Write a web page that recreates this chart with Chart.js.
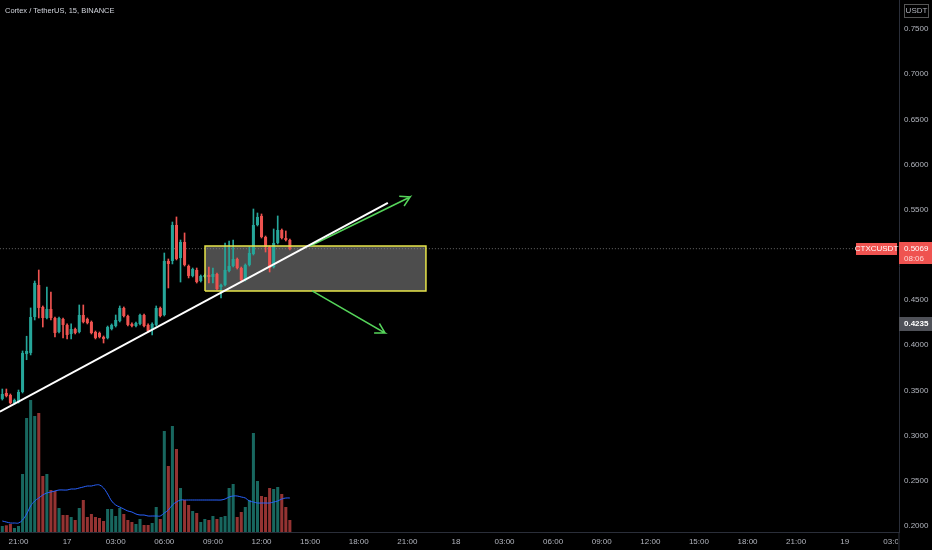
<!DOCTYPE html>
<html>
<head>
<meta charset="utf-8">
<script src="https://cdn.jsdelivr.net/npm/chart.js@4.4.0/dist/chart.umd.min.js"></script>
<style>
  html, body { margin: 0; padding: 0; background: #000; }
  #wrap { position: relative; width: 932px; height: 550px; }
  #title { position: absolute; left: 5px; top: 6px; line-height: 10px; font-size: 7.5px; font-family: 'Liberation Sans', sans-serif; color: #d1d4dc; }
</style>
</head>
<body>
<div id="wrap">
  <canvas id="chart" width="932" height="550"></canvas>
  <div id="title">Cortex / TetherUS, 15, BINANCE</div>
</div>
<script>
// 15 min candles, slot 0 = 16th 20:00
const opens = [
  0.3406, 0.3472, 0.3450, 0.3361, 0.3372, 0.3483, 0.3904, 0.3915, 0.4313, 0.4667,
  0.4424, 0.4302, 0.4402, 0.4302, 0.4147, 0.4291, 0.4225, 0.4125, 0.4180, 0.4147,
  0.4335, 0.4291, 0.4258, 0.4147, 0.4136, 0.4092, 0.4081, 0.4180, 0.4213, 0.4269,
  0.4413, 0.4324, 0.4236, 0.4213, 0.4236, 0.4335, 0.4225, 0.4169, 0.4225, 0.4413,
  0.4335, 0.4933, 0.4933, 0.5331, 0.4966, 0.5143, 0.4877, 0.4767, 0.4833, 0.4711,
  0.4756, 0.4778, 0.4756, 0.4789, 0.4645, 0.4667, 0.4822, 0.4877, 0.4955, 0.4855,
  0.4723, 0.4889, 0.5010, 0.5331, 0.5431, 0.5198, 0.5088, 0.4866, 0.5132, 0.5276,
  0.5187, 0.5165
];
const highs = [
  0.3516, 0.3516, 0.3461, 0.3406, 0.3505, 0.3937, 0.4100, 0.4413, 0.4711, 0.4833,
  0.4435, 0.4645, 0.4590, 0.4313, 0.4313, 0.4302, 0.4236, 0.4236, 0.4191, 0.4446,
  0.4446, 0.4302, 0.4269, 0.4158, 0.4147, 0.4103, 0.4213, 0.4236, 0.4335, 0.4435,
  0.4424, 0.4335, 0.4247, 0.4258, 0.4346, 0.4346, 0.4236, 0.4247, 0.4435, 0.4424,
  0.5021, 0.4955, 0.5364, 0.5420, 0.5165, 0.5243, 0.4889, 0.4855, 0.4855, 0.4778,
  0.4789, 0.4866, 0.4855, 0.4800, 0.4678, 0.5132, 0.5154, 0.5165, 0.4966, 0.4866,
  0.4900, 0.5088, 0.5508, 0.5464, 0.5453, 0.5209, 0.5099, 0.5287, 0.5431, 0.5287,
  0.5265, 0.5176
];
const lows = [
  0.3394, 0.3428, 0.3350, 0.3350, 0.3361, 0.3472, 0.3840, 0.3893, 0.4280, 0.4302,
  0.4202, 0.4291, 0.4280, 0.4092, 0.4136, 0.4081, 0.4070, 0.4070, 0.4125, 0.4136,
  0.4247, 0.4236, 0.4125, 0.4070, 0.4081, 0.4025, 0.4070, 0.4169, 0.4202, 0.4258,
  0.4313, 0.4213, 0.4202, 0.4202, 0.4225, 0.4202, 0.4147, 0.4114, 0.4213, 0.4313,
  0.4324, 0.4634, 0.4900, 0.4944, 0.4700, 0.4877, 0.4745, 0.4756, 0.4689, 0.4700,
  0.4745, 0.4689, 0.4689, 0.4612, 0.4523, 0.4656, 0.4811, 0.4866, 0.4844, 0.4711,
  0.4711, 0.4877, 0.4999, 0.5320, 0.5187, 0.5032, 0.4811, 0.4855, 0.5121, 0.5176,
  0.5154, 0.5055
];
const closes = [
  0.3461, 0.3439, 0.3361, 0.3394, 0.3483, 0.3915, 0.3937, 0.4313, 0.4689, 0.4413,
  0.4302, 0.4402, 0.4302, 0.4136, 0.4302, 0.4225, 0.4114, 0.4180, 0.4136, 0.4335,
  0.4258, 0.4247, 0.4136, 0.4081, 0.4092, 0.4070, 0.4202, 0.4225, 0.4280, 0.4413,
  0.4324, 0.4225, 0.4213, 0.4247, 0.4335, 0.4213, 0.4158, 0.4236, 0.4413, 0.4324,
  0.4933, 0.4900, 0.5331, 0.4955, 0.5143, 0.4889, 0.4767, 0.4844, 0.4700, 0.4767,
  0.4778, 0.4756, 0.4789, 0.4623, 0.4667, 0.4833, 0.4877, 0.4955, 0.4855, 0.4723,
  0.4889, 0.5021, 0.5331, 0.5420, 0.5198, 0.5088, 0.4855, 0.5132, 0.5276, 0.5187,
  0.5165, 0.5069
];
// volume in thousands
const volumes = [
  60, 67, 80, 40, 60, 580, 1140, 1320, 1160, 1190,
  560, 580, 420, 410, 240, 170, 170, 150, 120, 240,
  320, 150, 180, 150, 140, 110, 230, 230, 160, 240,
  180, 120, 100, 80, 130, 70, 70, 90, 250, 130,
  1010, 660, 1060, 830, 440, 320, 270, 210, 190, 100,
  130, 120, 160, 130, 150, 160, 440, 480, 150, 200,
  250, 320, 990, 510, 360, 350, 440, 430, 450, 380,
  250, 120
];
const volumeMA = [
  110, 100, 90, 90, 90, 120, 180, 260, 310, 340,
  370, 390, 400, 410, 420, 420, 420, 430, 430, 440,
  450, 460, 460, 470, 470, 440, 380, 310, 270, 250,
  230, 210, 200, 180, 170, 170, 160, 160, 160, 160,
  190, 220, 270, 300, 320, 320, 320, 320, 320, 320,
  320, 320, 320, 320, 320, 330, 350, 360, 360, 350,
  340, 310, 300, 290, 290, 290, 290, 300, 310, 330,
  340, 340
];
const tickLabels = ['21:00', '17', '03:00', '06:00', '09:00', '12:00', '15:00', '18:00', '21:00',
  '18', '03:00', '06:00', '09:00', '12:00', '15:00', '18:00', '21:00', '19', '03:00'];
const firstTickSlot = 4;
const slotsPerTick = 12;

const lastPrice = 0.5069;
const countdown = '08:06';
const markPrice = 0.4235;

// drawings (slot, price)
const trendLine = [{ x: -0.6, y: 0.3265 }, { x: 95.2, y: 0.5575 }];
const zoneLeft = 50.05, zoneRight = 104.6, zoneTop = 0.5099, zoneBottom = 0.4601;
const arrowUp = [{ x: 98.0, y: 0.5649 }, { x: 100.7, y: 0.5641 }, { x: 99.2, y: 0.5541 }, { x: 100.7, y: 0.5641 }, { x: 76.0, y: 0.5099 }];
const arrowDown = [{ x: 93.1, y: 0.4241 }, { x: 94.5, y: 0.4136 }, { x: 91.8, y: 0.4136 }, { x: 94.5, y: 0.4136 }, { x: 76.5, y: 0.4601 }];

const UP = '#26a69a', DOWN = '#ef5350';
const UP_VOL = 'rgba(38,166,154,0.62)', DOWN_VOL = 'rgba(239,83,80,0.62)';
const FONT = 'Liberation Sans, sans-serif';

const candleColors = closes.map((c, i) => c >= opens[i] ? UP : DOWN);
const volColors = closes.map((c, i) => c >= opens[i] ? UP_VOL : DOWN_VOL);

const labelsPlugin = {
    id: 'priceLabels',
    afterDraw(chart) {
        const { ctx, chartArea, scales } = chart;
        const right = chartArea.right;
        ctx.save();
        // clip the last time label under the price scale
        ctx.fillStyle = '#000';
        ctx.fillRect(right - 1, chartArea.bottom + 1, chart.width - right + 1, chart.height - chartArea.bottom);
        ctx.fillStyle = '#2a2e39';
        ctx.fillRect(right - 0.5, chartArea.bottom, 1, chart.height - chartArea.bottom);

        ctx.font = '8px ' + FONT;
        ctx.textBaseline = 'middle';

        // USDT box
        ctx.strokeStyle = '#555';
        ctx.lineWidth = 1;
        ctx.strokeRect(904.5, 4.5, 24, 13);
        ctx.fillStyle = '#b2b5be';
        ctx.textAlign = 'center';
        ctx.fillText('USDT', 916.5, 11);

        // symbol + last price
        const yp = scales.y.getPixelForValue(lastPrice);
        ctx.fillStyle = DOWN;
        ctx.fillRect(856, Math.round(yp) - 6, 41, 12);
        ctx.fillRect(right, Math.round(yp) - 7, chart.width - right, 22);
        ctx.fillStyle = '#fff';
        ctx.fillText('CTXCUSDT', 876.5, Math.round(yp));
        ctx.textAlign = 'left';
        ctx.fillText(lastPrice.toFixed(4), right + 5, Math.round(yp) - 0.5);
        ctx.fillStyle = '#ffd6d5';
        ctx.fillText(countdown, right + 5, Math.round(yp) + 9.5);

        // mark price
        const ym = scales.y.getPixelForValue(markPrice);
        ctx.fillStyle = '#4f5158';
        ctx.fillRect(right, Math.round(ym) - 7, chart.width - right, 14);
        ctx.fillStyle = '#fff';
        ctx.font = 'bold 8px ' + FONT;
        ctx.fillText(markPrice.toFixed(4), right + 5, Math.round(ym));
        ctx.restore();
    }
};

const ctx = document.getElementById('chart').getContext('2d');
new Chart(ctx, {
    type: 'bar',
    data: {
        datasets: [{
            label: 'Wicks',
            data: highs.map((h, i) => ({ x: i, y: [lows[i], h] })),
            backgroundColor: candleColors,
            barThickness: 1,
            grouped: false,
            order: 4
        }, {
            label: 'Bodies',
            data: opens.map((o, i) => ({ x: i, y: [o, closes[i]] })),
            backgroundColor: candleColors,
            categoryPercentage: 1,
            barPercentage: 0.75,
            grouped: false,
            order: 3
        }, {
            label: 'Volume',
            data: volumes.map((v, i) => ({ x: i, y: v })),
            backgroundColor: volColors,
            categoryPercentage: 1,
            barPercentage: 0.75,
            grouped: false,
            yAxisID: 'yVol',
            order: 10
        }, {
            type: 'line',
            label: 'Volume MA',
            data: volumeMA.map((v, i) => ({ x: i, y: v })),
            borderColor: '#2962ff',
            borderWidth: 1,
            pointRadius: 0,
            tension: 0.4,
            yAxisID: 'yVol',
            order: 9
        }, {
            type: 'line',
            label: 'Last price',
            data: [{ x: -0.6, y: lastPrice }, { x: 210.5, y: lastPrice }],
            borderColor: '#6a6a6a',
            borderWidth: 1,
            borderDash: [1, 2],
            pointRadius: 0,
            order: 8
        }, {
            type: 'line',
            label: 'Zone fill',
            data: [{ x: zoneLeft, y: zoneTop }, { x: zoneRight, y: zoneTop }],
            borderWidth: 0,
            backgroundColor: 'rgba(140,140,140,0.55)',
            fill: { value: zoneBottom },
            pointRadius: 0,
            order: 7
        }, {
            type: 'line',
            label: 'Zone border',
            data: [
                { x: zoneLeft, y: zoneBottom }, { x: zoneLeft, y: zoneTop },
                { x: zoneRight, y: zoneTop }, { x: zoneRight, y: zoneBottom },
                { x: zoneLeft, y: zoneBottom }
            ],
            borderColor: '#e8e54a',
            borderWidth: 1.5,
            pointRadius: 0,
            order: 2
        }, {
            type: 'line',
            label: 'Trend',
            data: trendLine,
            borderColor: '#ffffff',
            borderWidth: 2,
            pointRadius: 0,
            order: 1
        }, {
            type: 'line',
            label: 'Arrow up',
            data: arrowUp,
            borderColor: '#55d45a',
            borderWidth: 1.5,
            pointRadius: 0,
            order: 1
        }, {
            type: 'line',
            label: 'Arrow down',
            data: arrowDown,
            borderColor: '#55d45a',
            borderWidth: 1.5,
            pointRadius: 0,
            order: 1
        }]
    },
    options: {
        responsive: false,
        animation: false,
        events: [],
        layout: { padding: 0 },
        plugins: {
            legend: { display: false },
            tooltip: { enabled: false },
            title: { display: false }
        },
        scales: {
            x: {
                type: 'linear',
                min: -0.57,
                max: 221.4,
                offset: false,
                grid: { color: 'rgba(0,0,0,0)', drawTicks: false, offset: false },
                border: { color: '#2a2e39' },
                afterBuildTicks: function (scale) {
                    scale.ticks = tickLabels.map((_, i) => ({ value: firstTickSlot + i * slotsPerTick }));
                },
                ticks: {
                    autoSkip: false,
                    maxRotation: 0,
                    padding: 5,
                    color: '#b2b5be',
                    font: { size: 8, family: FONT },
                    callback: (value, index) => tickLabels[index]
                },
                afterFit: function (scale) {
                    scale.height = 18;
                    scale.paddingLeft = 0;
                    scale.paddingRight = 0;
                }
            },
            y: {
                position: 'right',
                min: 0.19336,
                max: 0.78209,
                grid: { color: 'rgba(0,0,0,0)', drawTicks: false },
                border: { color: '#2a2e39' },
                ticks: {
                    stepSize: 0.05,
                    includeBounds: false,
                    padding: 5,
                    color: '#b2b5be',
                    font: { size: 8, family: FONT },
                    callback: v => v.toFixed(4)
                },
                afterFit: function (scale) {
                    scale.width = 33;
                    scale.paddingTop = 0;
                    scale.paddingBottom = 0;
                }
            },
            yVol: {
                display: false,
                min: 0,
                max: 5320
            }
        }
    },
    plugins: [labelsPlugin]
});
</script>
</body>
</html>
